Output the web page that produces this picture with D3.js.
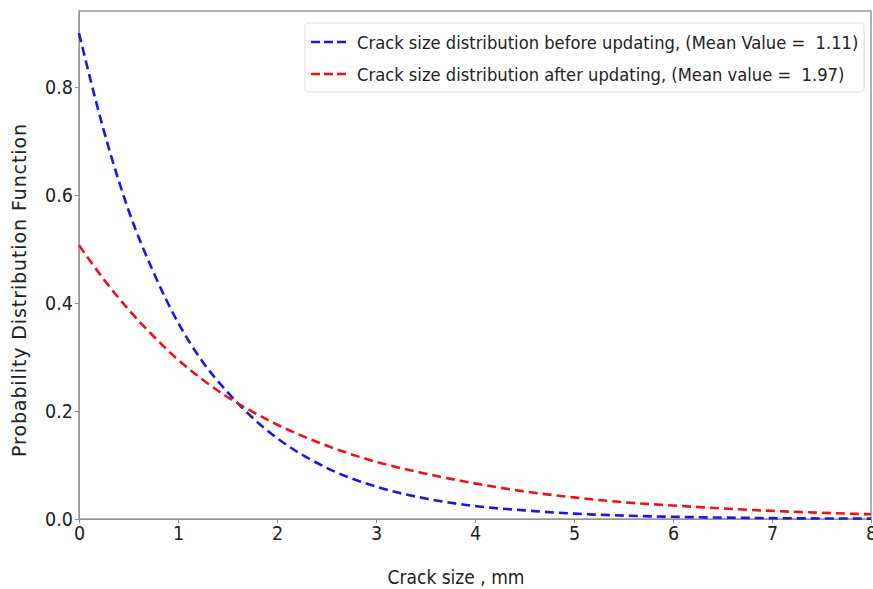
<html lang="en">
<head>
  <meta charset="UTF-8">
  <title>Crack size distribution</title>
  <script src="https://d3js.org/d3.v7.min.js"></script>
</head>
<style>
  body { margin: 0; background: #fff; }
  .axis text { font-family: "DejaVu Sans Condensed", "DejaVu Sans"; font-stretch: condensed; font-size: 19.5px; fill: #222; }
  .axis line, .axis path { stroke: #888; }
</style>
<body>
  <svg class="chart" width="873" height="589"></svg>
  <script>
    // values
    const xs = [0, 0.25, 0.5, 0.75, 1, 1.25, 1.5, 1.75, 2, 2.5, 3, 3.5, 4, 4.5, 5, 5.5, 6, 7, 8];
    const before = [0.90, 0.72, 0.572, 0.458, 0.364, 0.291, 0.235, 0.188, 0.15, 0.095, 0.060, 0.038, 0.024, 0.016, 0.010, 0.0063, 0.0041, 0.0016, 0.0007];
    const after = [0.507, 0.444, 0.388, 0.339, 0.295, 0.258, 0.226, 0.199, 0.175, 0.136, 0.106, 0.084, 0.066, 0.051, 0.040, 0.031, 0.025, 0.015, 0.0087];
    const xTicks = [0, 1, 2, 3, 4, 5, 6, 7, 8];
    const yTicks = [0.0, 0.2, 0.4, 0.6, 0.8];
    const legendLabels = ['Crack size distribution before updating, (Mean Value =  1.11)',
      'Crack size distribution after updating, (Mean value =  1.97)'];
    const colors = ['#1818e6', '#f01010'];

    const svg = d3.select('svg.chart');
    const margins = { top: 11, right: 2, bottom: 70, left: 79 };
    const chartWidth = 873 - margins.left - margins.right;
    const chartHeight = 589 - margins.top - margins.bottom;
    const chartArea = svg.append('g')
      .attr('transform', `translate(${margins.left},${margins.top})`);

    const xScale = d3.scaleLinear().domain([0, 8]).range([0, chartWidth]);
    const yScale = d3.scaleLinear().domain([0, 0.941]).range([chartHeight, 0]);

    chartArea.append('g')
      .attr('class', 'axis')
      .attr('transform', `translate(0,${chartHeight})`)
      .call(d3.axisBottom(xScale).tickValues(xTicks).tickSize(4).tickSizeOuter(0).tickPadding(3));

    chartArea.append('g')
      .attr('class', 'axis')
      .call(d3.axisLeft(yScale).tickValues(yTicks).tickFormat(d3.format('.1f')).tickSize(4).tickSizeOuter(0).tickPadding(2));

    // frame
    chartArea.append('rect')
      .attr('width', chartWidth).attr('height', chartHeight)
      .attr('fill', 'none').attr('stroke', '#999').attr('stroke-width', 1.5);

    const line = d3.line()
      .x((d, i) => xScale(xs[i]))
      .y(d => yScale(d))
      .curve(d3.curveMonotoneX);

    [before, after].forEach((series, k) => {
      chartArea.append('path')
        .datum(series)
        .attr('d', line)
        .attr('fill', 'none')
        .attr('stroke', colors[k])
        .attr('stroke-width', 2.6)
        .attr('stroke-dasharray', '9,5');
    });

    // legend
    const legend = chartArea.append('g').attr('transform', `translate(${305 - margins.left},${23 - margins.top})`);
    legend.append('rect')
      .attr('width', 559).attr('height', 69).attr('rx', 3)
      .attr('fill', '#fff').attr('stroke', '#ddd');
    legendLabels.forEach((lab, i) => {
      const y = 19 + i * 32;
      legend.append('line')
        .attr('x1', 6).attr('x2', 42).attr('y1', y).attr('y2', y)
        .attr('stroke', colors[i]).attr('stroke-width', 2.6).attr('stroke-dasharray', '9,4');
      legend.append('text')
        .attr('x', 52).attr('y', y + 7)
        .attr('font-family', '"DejaVu Sans Condensed", "DejaVu Sans"')
        .attr('font-stretch', 'condensed')
        .attr('font-size', 18.2).attr('fill', '#222')
        .style('white-space', 'pre')
        .text(lab);
    });

    svg.append('text')
      .attr('x', 456).attr('y', 584)
      .attr('text-anchor', 'middle')
      .attr('font-family', '"DejaVu Sans Condensed", "DejaVu Sans"')
      .attr('font-stretch', 'condensed')
      .attr('font-size', 19).attr('fill', '#222')
      .text('Crack size , mm');

    svg.append('text')
      .attr('transform', 'translate(26,290) rotate(-90)')
      .attr('text-anchor', 'middle')
      .attr('font-family', '"DejaVu Sans"')
      .attr('font-size', 19).attr('fill', '#222')
      .attr('letter-spacing', 0.9)
      .text('Probability Distribution Function');
  </script>
</body>
</html>
